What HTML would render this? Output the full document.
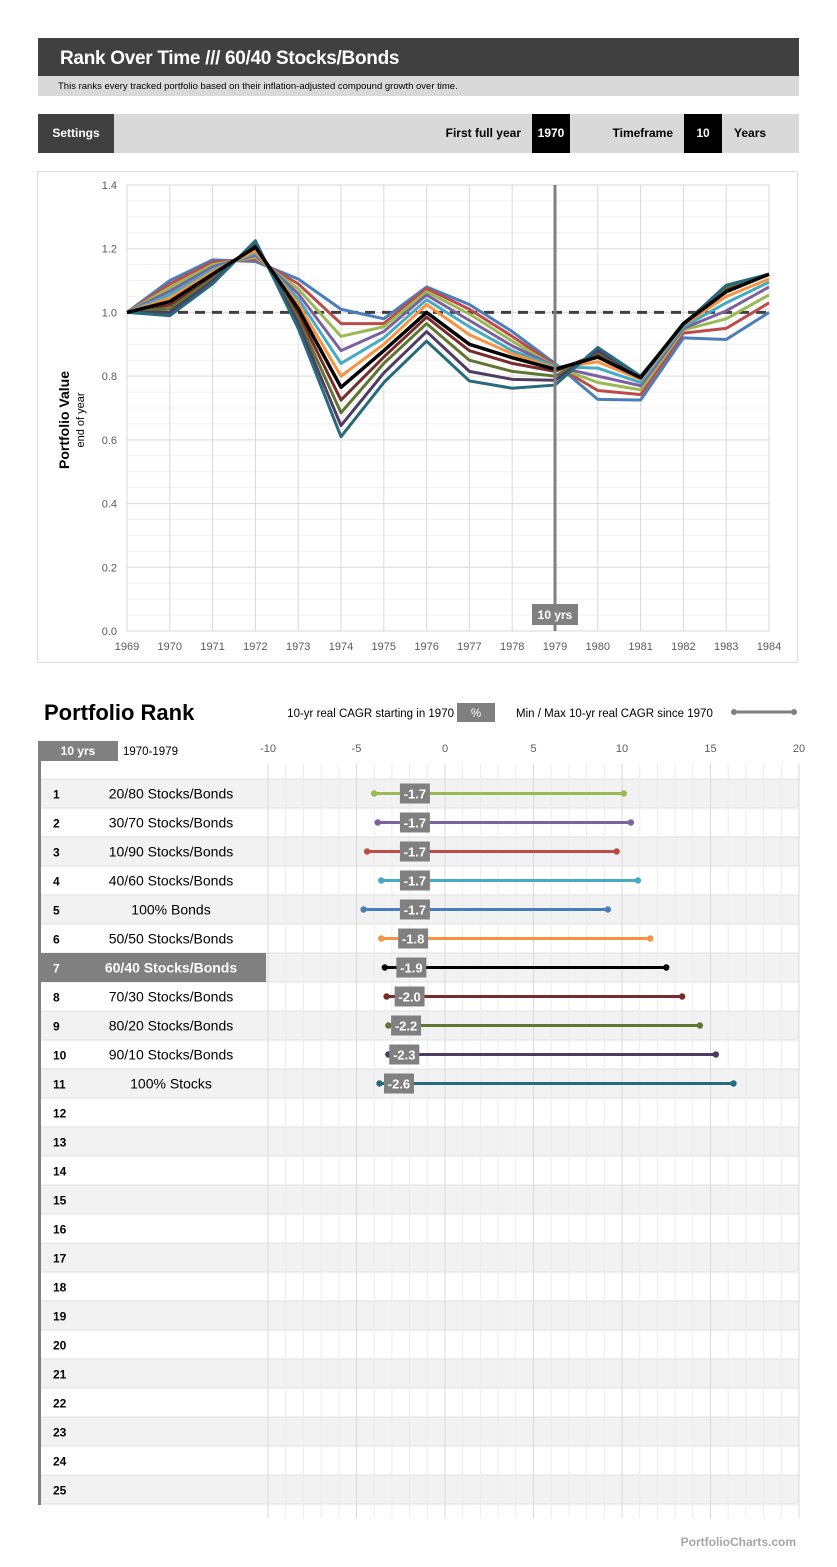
<!DOCTYPE html>
<html><head><meta charset="utf-8"><style>
body{margin:0;background:#fff;}
svg text{font-family:"Liberation Sans",Arial,sans-serif;}
</style></head><body>
<svg id="s" width="837" height="1562" viewBox="0 0 837 1562" xmlns="http://www.w3.org/2000/svg">
<rect x="38" y="38" width="761" height="38" fill="#404040"/>
<text x="60" y="64" font-size="19" font-weight="bold" fill="#fff" letter-spacing="-0.3">Rank Over Time /// 60/40 Stocks/Bonds</text>
<rect x="38" y="76" width="761" height="20" fill="#d9d9d9"/>
<text x="58" y="89" font-size="9.5" fill="#000">This ranks every tracked portfolio based on their inflation-adjusted compound growth over time.</text>
<rect x="38" y="114" width="761" height="39" fill="#d9d9d9"/>
<rect x="38" y="114" width="76" height="39" fill="#404040"/>
<text x="76" y="137" font-size="12" font-weight="bold" fill="#fff" text-anchor="middle">Settings</text>
<text x="521" y="137" font-size="12" font-weight="bold" text-anchor="end">First full year</text>
<rect x="532" y="114" width="38" height="39" fill="#000"/>
<text x="551" y="137" font-size="12" font-weight="bold" fill="#fff" text-anchor="middle">1970</text>
<text x="673" y="137" font-size="12" font-weight="bold" text-anchor="end">Timeframe</text>
<rect x="684" y="114" width="38" height="39" fill="#000"/>
<text x="703" y="137" font-size="12" font-weight="bold" fill="#fff" text-anchor="middle">10</text>
<text x="734" y="137" font-size="12" font-weight="bold">Years</text>
<rect x="37.5" y="171.5" width="760" height="491" fill="#fff" stroke="#ddd"/>
<g id="lc"></g>
<text x="44" y="720" font-size="22" font-weight="bold">Portfolio Rank</text>
<text x="454" y="717" font-size="11.5" text-anchor="end">10-yr real CAGR starting in 1970</text>
<rect x="457" y="703" width="38" height="19" fill="#808080"/>
<text x="476" y="717" font-size="11.5" fill="#fff" text-anchor="middle">%</text>
<text x="516" y="717" font-size="11.5">Min / Max 10-yr real CAGR since 1970</text>
<line x1="734" y1="712" x2="794" y2="712" stroke="#808080" stroke-width="3"/>
<circle cx="734" cy="712" r="3" fill="#808080"/><circle cx="794" cy="712" r="3" fill="#808080"/>
<rect x="38" y="741" width="80" height="20" fill="#808080"/>
<text x="78" y="755" font-size="12" font-weight="bold" fill="#fff" text-anchor="middle">10 yrs</text>
<text x="123" y="755" font-size="11.5">1970-1979</text>
<g id="rc"></g>
<text x="796" y="1546" font-size="12" font-weight="bold" fill="#a6a6a6" text-anchor="end">PortfolioCharts.com</text>
</svg>
<script>
const years=[1969,1970,1971,1972,1973,1974,1975,1976,1977,1978,1979,1980,1981,1982,1983,1984];
const yTicks=[0,0.2,0.4,0.6,0.8,1.0,1.2,1.4];
const sBonds=[1,1.10,1.165,1.16,1.105,1.01,0.98,1.08,1.025,0.94,0.84,0.727,0.725,0.92,0.915,1.0];
const s1090=[1,1.089,1.158,1.167,1.09,0.965,0.965,1.075,1.01,0.925,0.835,0.755,0.742,0.935,0.95,1.03];
const s2080=[1,1.078,1.15,1.173,1.074,0.925,0.955,1.065,0.995,0.91,0.83,0.78,0.757,0.945,0.98,1.055];
const s3070=[1,1.067,1.143,1.18,1.059,0.88,0.94,1.055,0.975,0.895,0.83,0.80,0.77,0.95,1.005,1.08];
const s4060=[1,1.056,1.135,1.186,1.043,0.84,0.92,1.04,0.955,0.88,0.83,0.825,0.78,0.955,1.03,1.095];
const s5050=[1,1.045,1.128,1.193,1.028,0.80,0.90,1.025,0.93,0.87,0.825,0.845,0.79,0.96,1.05,1.105];
const s6040=[1,1.034,1.12,1.205,1.012,0.765,0.88,1.0,0.90,0.858,0.822,0.86,0.795,0.965,1.065,1.12];
const s7030=[1,1.023,1.113,1.206,0.997,0.725,0.86,0.985,0.88,0.84,0.815,0.87,0.797,0.965,1.075,1.12];
const s8020=[1,1.012,1.105,1.212,0.981,0.685,0.84,0.965,0.85,0.815,0.80,0.875,0.798,0.965,1.08,1.12];
const s9010=[1,1.001,1.098,1.219,0.966,0.645,0.81,0.94,0.815,0.79,0.787,0.88,0.799,0.962,1.085,1.12];
const sStocks=[1,0.99,1.09,1.225,0.95,0.61,0.78,0.91,0.785,0.762,0.772,0.89,0.80,0.96,1.085,1.12];
const markerYear=1979;
const baseline=1.0;
const rankNames=["20/80 Stocks/Bonds","30/70 Stocks/Bonds","10/90 Stocks/Bonds","40/60 Stocks/Bonds","100% Bonds","50/50 Stocks/Bonds","60/40 Stocks/Bonds","70/30 Stocks/Bonds","80/20 Stocks/Bonds","90/10 Stocks/Bonds","100% Stocks"];
const rankCagr=[-1.7,-1.7,-1.7,-1.7,-1.7,-1.8,-1.9,-2.0,-2.2,-2.3,-2.6];
const rankMin=[-4.0,-3.8,-4.4,-3.6,-4.6,-3.6,-3.4,-3.3,-3.2,-3.2,-3.7];
const rankMax=[10.1,10.5,9.7,10.9,9.2,11.6,12.5,13.4,14.4,15.3,16.3];
const xTicks=[-10,-5,0,5,10,15,20];

const NS="http://www.w3.org/2000/svg";
function el(t,a,p){const e=document.createElementNS(NS,t);for(const k in a)e.setAttribute(k,a[k]);p.appendChild(e);return e;}
const lc=document.getElementById('lc');
const X=y=>127+(y-1969)*(769-127)/15;
const Y=v=>631-v*(631-185)/1.4;
for(let v=0;v<=1.4001;v+=0.05){const maj=Math.abs(v/0.2-Math.round(v/0.2))<0.01;const g=el('line',{x1:127,x2:769,y1:Y(v),y2:Y(v),stroke:maj?'#d9d9d9':'#f0f0f0','stroke-width':1},lc);
}
years.forEach(y=>{const g=el('line',{x1:X(y),x2:X(y),y1:185,y2:631,stroke:'#d9d9d9'},lc);

const t=el('text',{x:X(y),y:650,'font-size':11,fill:'#595959','text-anchor':'middle'},lc);t.textContent=y;
});
yTicks.forEach(v=>{const t=el('text',{x:117,y:Y(v)+4,'font-size':11,fill:'#595959','text-anchor':'end'},lc);t.textContent=v.toFixed(1);
});
const yt=el('text',{x:0,y:0,'font-size':14,'font-weight':'bold','text-anchor':'middle',transform:'translate(69,420) rotate(-90)'},lc);yt.textContent='Portfolio Value';

const ys=el('text',{x:0,y:0,'font-size':11,'text-anchor':'middle',transform:'translate(84,420) rotate(-90)'},lc);ys.textContent='end of year';

const series=[[sBonds,'#4a7ebb',3,'bonds'],[s1090,'#be4b48',3,'10-90'],[s2080,'#98b954',3,'20-80'],[s3070,'#7d60a0',3,'30-70'],[s4060,'#46aac5',3,'40-60'],[s5050,'#f69240',3,'50-50'],[s7030,'#772c2a',3,'70-30'],[s8020,'#5f7530',3,'80-20'],[s9010,'#4d3b62',3,'90-10'],[sStocks,'#276a7c',3,'stocks'],[s6040,'#000000',3.5,'60-40']];
const bl=el('line',{x1:127,x2:769,y1:Y(baseline),y2:Y(baseline),stroke:'#404040','stroke-width':3,'stroke-dasharray':'10,7'},lc);

series.forEach(s=>{const p=el('polyline',{points:s[0].map((v,i)=>X(years[i])+','+Y(v)).join(' '),fill:'none',stroke:s[1],'stroke-width':s[2],'stroke-linejoin':'round'},lc);
});
const mk=el('line',{x1:X(markerYear),x2:X(markerYear),y1:185,y2:631,stroke:'#808080','stroke-width':3},lc);

const mb=el('rect',{x:X(markerYear)-23,y:604,width:46,height:21,fill:'#808080'},lc);

const mt=el('text',{x:X(markerYear),y:619,'font-size':12,'font-weight':'bold',fill:'#fff','text-anchor':'middle'},lc);mt.textContent='10 yrs';

const rc=document.getElementById('rc');
const RX=v=>268+(v+10)*(799-268)/30;
const rowTop=779,rowH=29;
for(let r=0;r<25;r++){const y=rowTop+r*rowH;
const b=el('rect',{x:40,y:y,width:759,height:rowH,fill:r%2==0?'#f2f2f2':'#ffffff'},rc);

el('line',{x1:40,x2:799,y1:y,y2:y,stroke:'#e0e0e0'},rc);}
el('line',{x1:40,x2:799,y1:rowTop+25*rowH,y2:rowTop+25*rowH,stroke:'#e0e0e0'},rc);
for(let v=-10;v<=20;v++){const major=v%5==0;
const g=el('line',{x1:RX(v),x2:RX(v),y1:764,y2:1518,stroke:major?'#d9d9d9':'#ececec'},rc);
}
xTicks.forEach(v=>{const t=el('text',{x:RX(v),y:752,'font-size':11,fill:'#595959','text-anchor':'middle'},rc);t.textContent=v;
});
el('rect',{x:38,y:761,width:3,height:744,fill:'#808080'},rc);
const colors=['#98b954','#7d60a0','#be4b48','#46aac5','#4a7ebb','#f69240','#000000','#772c2a','#5f7530','#4d3b62','#276a7c'];
for(let r=0;r<25;r++){const cy=rowTop+r*rowH+rowH/2;
if(r==6){const h=el('rect',{x:38,y:rowTop+r*rowH,width:228,height:rowH,fill:'#808080'},rc);}
const n=el('text',{x:53,y:cy+5,'font-size':12,'font-weight':'bold',fill:r==6?'#fff':'#000'},rc);n.textContent=r+1;

if(r<rankNames.length){
const t=el('text',{x:171,y:cy+5,'font-size':14,'font-weight':r==6?'bold':'normal',fill:r==6?'#fff':'#000','text-anchor':'middle'},rc);t.textContent=rankNames[r];

const l=el('line',{x1:RX(rankMin[r]),x2:RX(rankMax[r]),y1:cy,y2:cy,stroke:colors[r],'stroke-width':3},rc);

el('circle',{cx:RX(rankMin[r]),cy:cy,r:3.2,fill:colors[r]},rc);
el('circle',{cx:RX(rankMax[r]),cy:cy,r:3.2,fill:colors[r]},rc);
const bx=el('rect',{x:RX(rankCagr[r])-15,y:cy-10,width:30,height:20,fill:'#808080'},rc);

const vt=el('text',{x:RX(rankCagr[r]),y:cy+5,'font-size':13,'font-weight':'bold',fill:'#fff','text-anchor':'middle'},rc);vt.textContent=rankCagr[r].toFixed(1);
}}
</script>
</body></html>
